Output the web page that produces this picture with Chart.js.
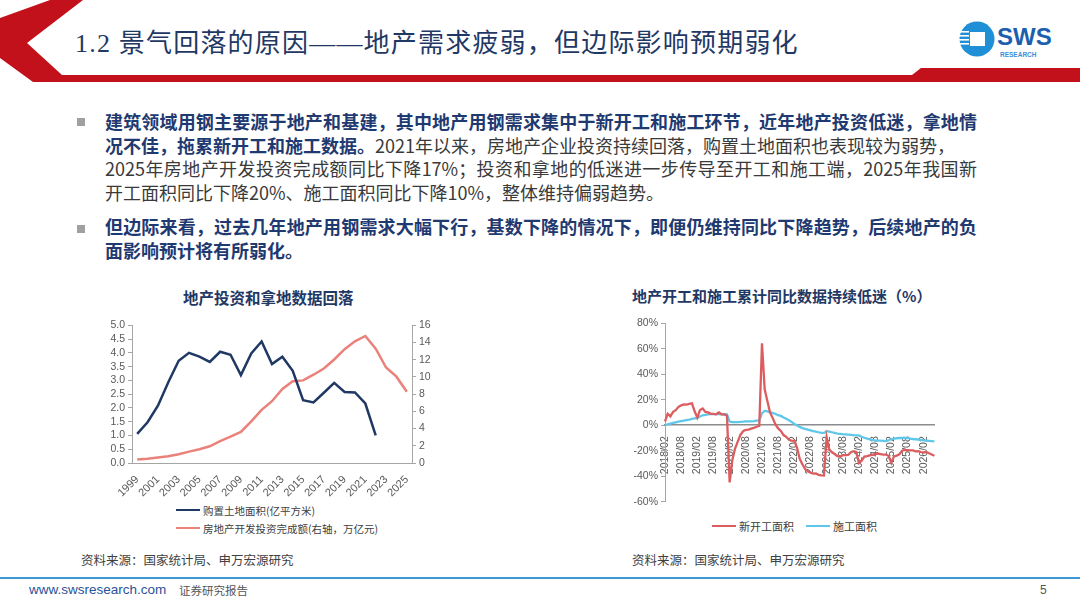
<!DOCTYPE html>
<html>
<head>
<meta charset="utf-8">
<script src="https://cdn.jsdelivr.net/npm/chart.js@4.4.1/dist/chart.umd.min.js"></script>
<style>
  body { margin: 0; width: 1080px; height: 608px; position: relative; overflow: hidden; background: #fff;
         font-family: "Noto Sans CJK SC", sans-serif; }
  .abs { position: absolute; }
  .title { left: 75px; top: 26px; font-size: 26px; letter-spacing: 1.2px; color: #1f3864; white-space: nowrap;
           font-family: "Liberation Serif", "Noto Sans CJK SC", serif; line-height: 36px; }
  .body { left: 105px; top: 110px; width: 872px; font-size: 18px; line-height: 23.5px; color: #3a3a3a; }
  .body div { white-space: nowrap; }
  .body .j { text-align: justify; text-align-last: justify; }
  .body b { color: #1f3a70; font-weight: 700; }
  .bullet { width: 8px; height: 8px; background: #a0a0a0; }
  .ctitle { font-size: 15.5px; font-weight: 700; color: #1f3864; white-space: nowrap; }
  .src { font-size: 12.5px; color: #404040; white-space: nowrap; }
  .leg div { height: 18px; display: flex; align-items: center; color: #404040; white-space: nowrap; }
  .leg span.ln { display: inline-block; width: 24px; height: 2.5px; margin-right: 3px; }
  #legL div { font-size: 10.5px; }
  #legR { display: flex; }
  #legR div { font-size: 11px; margin-right: 12px; }
</style>
</head>
<body>

<svg class="abs" style="left:0;top:0" width="1080" height="90">
  <polygon points="50,0 83,0 27,43 62,75 912,75 921,68 1080,68 1080,82 33,82 0,58 0,18" fill="#c3111b"/>
  <circle cx="977" cy="39" r="17.5" fill="#1f8fd6"/>
  <rect x="970" y="32" width="15" height="14" fill="#fff"/>
  <rect x="959" y="31" width="10" height="1.6" fill="#fff"/>
  <rect x="959" y="35" width="10" height="1.6" fill="#fff"/>
  <rect x="959" y="39" width="10" height="1.6" fill="#fff"/>
  <rect x="959" y="43" width="10" height="1.6" fill="#fff"/>
  <text x="997" y="45" font-family="Liberation Sans, Arial" font-weight="700" font-size="24" fill="#1b5fae">SWS</text>
  <text x="1000" y="57" font-family="Liberation Sans, Arial" font-weight="700" font-size="6.5" fill="#3b8fd6">RESEARCH</text>
</svg>

<div class="abs title">1.2 景气回落的原因——地产需求疲弱，但边际影响预期弱化</div>

<div class="abs bullet" style="left:77px;top:118px"></div>
<div class="abs bullet" style="left:77px;top:225px"></div>
<div class="abs body">
  <div class="j"><b>建筑领域用钢主要源于地产和基建，其中地产用钢需求集中于新开工和施工环节，近年地产投资低迷，拿地情</b></div>
  <div><b>况不佳，拖累新开工和施工数据。</b>2021年以来，房地产企业投资持续回落，购置土地面积也表现较为弱势，</div>
  <div class="j">2025年房地产开发投资完成额同比下降17%；投资和拿地的低迷进一步传导至开工和施工端，2025年我国新</div>
  <div>开工面积同比下降20%、施工面积同比下降10%，整体维持偏弱趋势。</div>
  <div style="height:11px"></div>
  <div class="j"><b>但边际来看，过去几年地产用钢需求大幅下行，基数下降的情况下，即便仍维持同比下降趋势，后续地产的负</b></div>
  <div><b>面影响预计将有所弱化。</b></div>
</div>

<div class="abs ctitle" style="left:183px;top:286px">地产投资和拿地数据回落</div>
<div class="abs" style="left:90px;top:316px;width:356px;height:183px"><canvas id="left"></canvas></div>
<div class="abs leg" id="legL" style="left:176px;top:501px"></div>

<div class="abs ctitle" style="left:632px;top:285px;font-size:15px">地产开工和施工累计同比数据持续低迷（%）</div>
<div class="abs" style="left:620px;top:314px;width:330px;height:197px"><canvas id="right"></canvas></div>
<div class="abs leg" id="legR" style="left:712px;top:517px"></div>

<div class="abs src" style="left:81px;top:550px">资料来源：国家统计局、申万宏源研究</div>
<div class="abs src" style="left:632px;top:550px">资料来源：国家统计局、申万宏源研究</div>

<div class="abs" style="left:0;top:577px;width:1080px;height:2px;background:#3d9ad6"></div>
<div class="abs" style="left:29px;top:582px;font-family:'Liberation Sans',Arial;font-size:13.5px;color:#2a5298">www.swsresearch.com</div>
<div class="abs" style="left:179px;top:582px;font-size:11.5px;color:#555">证券研究报告</div>
<div class="abs" style="left:1040px;top:583px;font-family:'Liberation Sans',Arial;font-size:12px;color:#555">5</div>

<script>
// left chart data
const years = ['1999','2000','2001','2002','2003','2004','2005','2006','2007','2008','2009','2010','2011','2012',
               '2013','2014','2015','2016','2017','2018','2019','2020','2021','2022','2023','2024','2025'];
const landArea = [1.06,1.48,2.08,2.93,3.71,4.00,3.86,3.67,4.04,3.93,3.19,3.98,4.41,3.59,
                  3.86,3.35,2.28,2.20,2.55,2.91,2.58,2.56,2.16,1.00,null,null,null];
const investment = [0.41,0.50,0.63,0.78,1.02,1.32,1.59,1.94,2.53,3.06,3.62,4.83,6.18,7.18,
                    8.60,9.50,9.60,10.26,10.98,12.03,13.22,14.14,14.76,13.29,11.09,10.03,8.28];

// right chart data, monthly from 2018/02
const months = [];
for (let y = 2018; y <= 2026; y++) {
    for (let m = 1; m <= 12; m++) {
        if (y === 2018 && m < 2) continue;
        if (y === 2026 && m > 6) break;
        months.push(y + '/' + (m < 10 ? '0' + m : m));
    }
}
const newStarts = [
    3, 9, 7, 10.5, 11.8, 14.4, 15.6, 16.3, 16.2, 16.8, 17.2,
    11, 6, 11.9, 13.1, 10.5, 10.1, 9, 8.9, 8.6, 10, 8.6, 8.5,
    7.5, -44.9, -27.2, -18.4, -12.8, -7.6, -4.7, -3.6, -3.4, -2.6, -2, -1.2,
    -0.5, 64.3, 28.2, 19.1, 9.9, 5.6, 0.6, -2.5, -4.5, -7.7, -9.1, -11.4,
    -12, -12.2, -17.5, -26.3, -30.6, -34.4, -36.1, -37.2, -38, -37.8, -38.9, -39.4,
    -39.5, -9.4, -19.2, -21.2, -22.6, -24.3, -24.5, -23.5, -23.4, -23.2, -21.2, -20.4,
    -21, -29.7, -27.8, -24.6, -24.2, -23.7, -23.2, -22.5, -22.2, -22.6, -23, -23,
    -24, -29.6, -24.4, -23.8, -22.8, -20, -19.4, -19.5, -19.8, -19.8, -20.5, -20.4,
    -21, -21.5, -21, -22, -23, -24
];
const underConstruction = [
    0, 0.6, 1.2, 1.8, 2.3, 2.8, 3.3, 3.7, 4.1, 4.5, 5.0,
    5.3, 5.8, 6.9, 7.8, 8.2, 8.5, 8.7, 8.8, 8.7, 8.8, 8.6, 8.7,
    8.5, 2.9, 2.5, 2.4, 2.4, 2.6, 2.8, 3.1, 3.1, 3.0, 3.2, 3.7,
    3.8, 9.5, 11.2, 10.9, 10.3, 9.6, 8.9, 7.9, 7.3, 6.1, 5.1, 4.0,
    2.6, 1.0, -0.1, -1.3, -2.2, -2.8, -3.5, -4.0, -4.6, -5.0, -5.5, -6.0,
    -6.0, -4.6, -5.0, -5.5, -6.0, -6.5, -6.7, -7.0, -7.1, -7.3, -7.5, -7.8,
    -8.0, -8.0, -9.0, -9.8, -10.5, -11.0, -11.5, -11.8, -12.0, -12.0, -12.2, -12.4,
    -11.8, -11.0, -10.5, -10.2, -10.0, -10.0, -10.0, -10.0, -10.5, -10.8, -11.0, -11.2,
    -11.5, -11.8, -12.0, -12.2, -12.4, -12.6
];

Chart.defaults.font.family = '"Liberation Sans", Arial, "Noto Sans CJK SC", sans-serif';
Chart.defaults.color = '#595959';
Chart.defaults.animation = false;

const axisGray = '#a6a6a6';

// legends are drawn as html so the left one can stack vertically
function buildLegend(chart, id) {
    const box = document.getElementById(id);
    chart.data.datasets.forEach(ds => {
        const row = document.createElement('div');
        const ln = document.createElement('span');
        ln.className = 'ln';
        ln.style.background = ds.borderColor;
        row.appendChild(ln);
        row.appendChild(document.createTextNode(ds.label));
        box.appendChild(row);
    });
}

const leftChart = new Chart(document.getElementById('left').getContext('2d'), {
    type: 'line',
    data: {
        labels: years,
        datasets: [
            {
                label: '购置土地面积(亿平方米)',
                data: landArea,
                borderColor: '#203864',
                backgroundColor: '#203864',
                borderWidth: 2.5,
                pointRadius: 0,
                yAxisID: 'y'
            },
            {
                label: '房地产开发投资完成额(右轴，万亿元)',
                data: investment,
                borderColor: '#ea817b',
                backgroundColor: '#ea817b',
                borderWidth: 2.5,
                pointRadius: 0,
                yAxisID: 'y1'
            }
        ]
    },
    options: {
        responsive: true,
        maintainAspectRatio: false,
        layout: { padding: { top: 8 } },
        plugins: { legend: { display: false }, tooltip: { enabled: false } },
        scales: {
            x: {
                offset: true,
                grid: { display: false },
                border: { color: axisGray },
                ticks: {
                    autoSkip: false, minRotation: 45, maxRotation: 45, padding: 2,
                    font: { size: 11 },
                    callback: (v, i) => (i % 2 === 0 ? years[i] : '')
                },
                afterFit: s => { s.height = 36; }
            },
            y: {
                position: 'left', min: 0, max: 5,
                grid: { drawOnChartArea: false, tickLength: 4, color: axisGray },
                border: { color: axisGray },
                ticks: { autoSkip: false, stepSize: 0.5, font: { size: 10.5 }, padding: 3, callback: v => v.toFixed(1) },
                afterFit: s => { s.width = 42; }
            },
            y1: {
                position: 'right', min: 0, max: 16,
                grid: { drawOnChartArea: false, tickLength: 4, color: axisGray },
                border: { color: axisGray },
                ticks: { autoSkip: false, stepSize: 2, font: { size: 10.5 }, padding: 3 },
                afterFit: s => { s.width = 34; }
            }
        }
    }
});
buildLegend(leftChart, 'legL');

const rightChart = new Chart(document.getElementById('right').getContext('2d'), {
    type: 'line',
    data: {
        labels: months,
        datasets: [
            {
                label: '新开工面积',
                data: newStarts,
                borderColor: '#dc5d5f',
                backgroundColor: '#dc5d5f',
                borderWidth: 2.3,
                pointRadius: 0
            },
            {
                label: '施工面积',
                data: underConstruction,
                borderColor: '#5fc8ea',
                backgroundColor: '#5fc8ea',
                borderWidth: 2.3,
                pointRadius: 0
            }
        ]
    },
    options: {
        responsive: true,
        maintainAspectRatio: false,
        layout: { padding: { top: 8, right: 7, bottom: 7 } },
        plugins: { legend: { display: false }, tooltip: { enabled: false } },
        scales: {
            x: {
                position: { y: 0 },
                grid: { display: false },
                border: { color: '#8c8c8c', width: 1.5 },
                ticks: {
                    autoSkip: false, minRotation: 90, maxRotation: 90, padding: 3,
                    font: { size: 10.5 },
                    callback: (v, i) => (i % 6 === 0 ? months[i] : '')
                }
            },
            y: {
                min: -60, max: 80,
                grid: { drawOnChartArea: false, tickLength: 4, color: axisGray },
                border: { color: axisGray },
                ticks: { autoSkip: false, stepSize: 20, font: { size: 10.5 }, padding: 3, callback: v => v + '%' },
                afterFit: s => { s.width = 45; }
            }
        }
    }
});
buildLegend(rightChart, 'legR');
</script>
</body>
</html>
